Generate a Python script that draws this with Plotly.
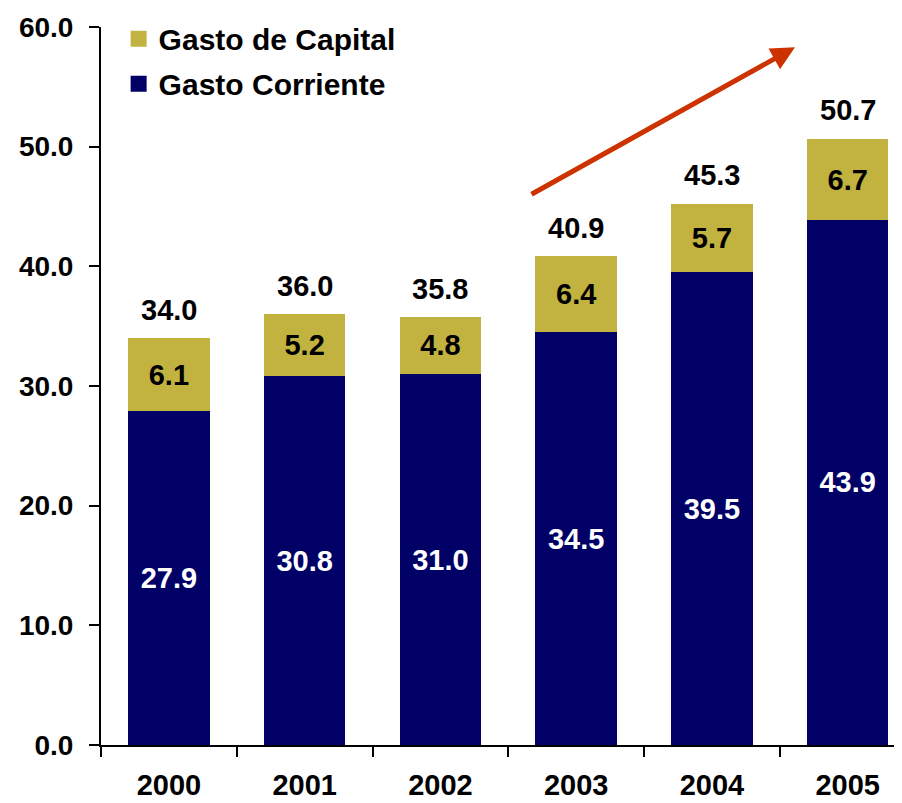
import plotly.graph_objects as go

years = ["2000", "2001", "2002", "2003", "2004", "2005"]
gasto_corriente = [27.9, 30.8, 31.0, 34.5, 39.5, 43.9]
gasto_capital = [6.1, 5.2, 4.8, 6.4, 5.7, 6.7]
totales = [34.0, 36.0, 35.8, 40.9, 45.3, 50.7]
y_ticks = [0, 10, 20, 30, 40, 50, 60]

NAVY = "#000066"
OLIVE = "#C2B240"
FONT = "Liberation Sans, Arial, sans-serif"

fig = go.Figure()

fig.add_trace(go.Bar(
    x=years, y=gasto_corriente, name="Gasto Corriente",
    marker=dict(color=NAVY, line=dict(width=0)),
    text=[f"{v:.1f}" for v in gasto_corriente],
    textposition="inside", insidetextanchor="middle",
    textfont=dict(family=FONT, size=29, color="white", weight="bold"),
    showlegend=False, legendgroup="corr",
))
fig.add_trace(go.Bar(
    x=years, y=gasto_capital, name="Gasto de Capital",
    marker=dict(color=OLIVE, line=dict(width=0)),
    text=[f"{v:.1f}" for v in gasto_capital],
    textposition="inside", insidetextanchor="middle",
    textfont=dict(family=FONT, size=29, color="black", weight="bold"),
    showlegend=False, legendgroup="cap",
))

# legend entries (square markers)
fig.add_trace(go.Scatter(
    x=[None], y=[None], mode="markers", name="Gasto de Capital",
    marker=dict(symbol="square", size=18, color=OLIVE), legendgroup="cap",
))
fig.add_trace(go.Scatter(
    x=[None], y=[None], mode="markers", name="Gasto Corriente",
    marker=dict(symbol="square", size=18, color=NAVY), legendgroup="corr",
))

# totals above each stacked bar (x = category index)
for i, tot in enumerate(totales):
    fig.add_annotation(
        x=i, y=tot, text=f"{tot:.1f}", showarrow=False,
        xref="x", yref="y", yanchor="bottom", yshift=10,
        font=dict(family=FONT, size=29, color="black", weight="bold"),
    )

# trend arrow
fig.add_annotation(
    x=4.612, y=58.3, ax=2.66, ay=45.95,
    xref="x", yref="y", axref="x", ayref="y",
    text="", showarrow=True, arrowhead=2, arrowsize=0.95,
    arrowwidth=5, arrowcolor="#CC3300",
)

fig.update_layout(
    width=894, height=795,
    margin=dict(l=93, r=0, t=19, b=58),
    paper_bgcolor="white", plot_bgcolor="white",
    barmode="stack", bargap=0.4,
    font=dict(family=FONT, color="black"),
    legend=dict(
        x=0.022, y=1.02, xanchor="left", yanchor="top",
        font=dict(family=FONT, size=30, color="black", weight="bold"),
        bgcolor="rgba(0,0,0,0)", itemwidth=30, tracegroupgap=3,
    ),
    xaxis=dict(
        type="category", range=[-0.5, 5.4],
        showline=True, linecolor="black", linewidth=2,
        ticks="outside", ticklen=10, tickwidth=2, tickcolor="black",
        tickson="boundaries", showgrid=False, zeroline=False,
        tickfont=dict(family=FONT, size=29, color="black", weight="bold"),
        ticklabelstandoff=13,
    ),
    yaxis=dict(
        range=[0, 60], tickvals=y_ticks, tickformat=".1f",
        showline=True, linecolor="black", linewidth=2,
        ticks="outside", ticklen=10, tickwidth=2, tickcolor="black",
        showgrid=False, zeroline=False,
        tickfont=dict(family=FONT, size=28, color="black", weight="bold"),
        ticklabelstandoff=10,
    ),
)

fig.write_html("out.html")
